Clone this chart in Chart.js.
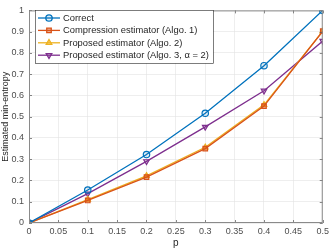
<!DOCTYPE html>
<html lang="en">
<head>
<meta charset="UTF-8">
<title>Min-entropy estimators</title>
<script src="https://cdn.jsdelivr.net/npm/chart.js"></script>
<style>
  html, body { margin: 0; padding: 0; background: #fff; }
</style>
</head>
<body>
<canvas id="entropyChart" width="332" height="249"></canvas>
<script>
    const pValues = [0, 0.1, 0.2, 0.3, 0.4, 0.5];
    const correct = [0, 0.155, 0.322, 0.516, 0.740, 1.0];
    const compression = [0, 0.106, 0.216, 0.350, 0.550, 0.902];
    const proposedAlgo2 = [0, 0.110, 0.222, 0.356, 0.556, 0.902];
    const proposedAlgo3 = [0, 0.138, 0.290, 0.452, 0.622, 0.856];
    const seriesNames = [
        'Correct',
        'Compression estimator (Algo. 1)',
        'Proposed estimator (Algo. 2)',
        'Proposed estimator (Algo. 3, \u03b1 = 2)'
    ];
    const xTicks = [0, 0.05, 0.1, 0.15, 0.2, 0.25, 0.3, 0.35, 0.4, 0.45, 0.5];
    const yTicks = [0, 0.1, 0.2, 0.3, 0.4, 0.5, 0.6, 0.7, 0.8, 0.9, 1];

    const toPoints = ys => pValues.map((x, i) => ({x: x, y: ys[i]}));
    const font = '"Liberation Sans", Arial, sans-serif';

    // box, inner ticks and legend drawn over the chart area like MATLAB
    const matlabAxes = {
        id: 'matlabAxes',
        afterDraw(chart) {
            const ctx = chart.ctx;
            const a = chart.chartArea;
            const xs = chart.scales.x, ys = chart.scales.y;
            ctx.save();
            ctx.strokeStyle = '#555';
            ctx.lineWidth = 0.7;
            ctx.beginPath();
            xs.ticks.forEach(t => {
                const px = Math.round(xs.getPixelForValue(t.value)) + 0.5;
                ctx.moveTo(px, a.bottom); ctx.lineTo(px, a.bottom - 3);
                ctx.moveTo(px, a.top); ctx.lineTo(px, a.top + 3);
            });
            ys.ticks.forEach(t => {
                const py = Math.round(ys.getPixelForValue(t.value)) + 0.5;
                ctx.moveTo(a.left, py); ctx.lineTo(a.left + 3, py);
                ctx.moveTo(a.right, py); ctx.lineTo(a.right - 3, py);
            });
            ctx.stroke();
            ctx.strokeStyle = '#8a8a8a';
            ctx.lineWidth = 1;
            ctx.strokeRect(a.left + 0.5, a.top + 0.5, a.right - a.left - 1, a.bottom - a.top - 1);

            // legend
            const lx = 35, ly = 10, lw = 178, lh = 53;
            ctx.fillStyle = '#fff';
            ctx.fillRect(lx, ly, lw, lh);
            ctx.strokeStyle = '#262626';
            ctx.lineWidth = 0.6;
            ctx.strokeRect(lx + 0.5, ly + 0.5, lw, lh);
            ctx.font = '9.4px ' + font;
            ctx.textBaseline = 'middle';
            chart.data.datasets.forEach((ds, i) => {
                const cy = ly + 8 + i * 12.4;
                ctx.strokeStyle = ds.borderColor;
                ctx.lineWidth = 1.3;
                ctx.beginPath();
                ctx.moveTo(lx + 3, cy); ctx.lineTo(lx + 25, cy);
                ctx.stroke();
                ctx.fillStyle = ds.pointBackgroundColor;
                Chart.helpers.drawPoint(ctx, {
                    pointStyle: ds.pointStyle,
                    rotation: ds.pointRotation || 0,
                    radius: ds.pointRadius,
                    borderWidth: 1.2
                }, lx + 14, cy);
                ctx.fillStyle = '#262626';
                ctx.fillText(seriesNames[i], lx + 28, cy + 0.5);
            });
            ctx.restore();
        }
    };

    const ctx = document.getElementById('entropyChart').getContext('2d');
    const makeSet = (label, ys, color, style, rotation, fill) => ({
        label: label,
        data: toPoints(ys),
        borderColor: color,
        backgroundColor: fill,
        pointBorderColor: color,
        pointBackgroundColor: fill,
        pointStyle: style,
        pointRotation: rotation,
        pointRadius: 3.2,
        pointBorderWidth: 1.2,
        borderWidth: 1.3,
        tension: 0
    });

    new Chart(ctx, {
        type: 'line',
        data: {
            datasets: [
                makeSet(seriesNames[0], correct, '#0072BD', 'circle', 0, 'rgba(0,114,189,0.12)'),
                makeSet(seriesNames[1], compression, '#D95319', 'rect', 0, 'rgba(217,83,25,0.45)'),
                makeSet(seriesNames[2], proposedAlgo2, '#EDB120', 'triangle', 0, 'rgba(237,177,32,0.45)'),
                makeSet(seriesNames[3], proposedAlgo3, '#7E2F8E', 'triangle', 180, 'rgba(126,47,142,0.2)')
            ]
        },
        options: {
            responsive: false,
            animation: false,
            layout: { padding: { left: 0, right: 8, top: 5, bottom: 0 } },
            plugins: {
                legend: { display: false },
                tooltip: { enabled: false }
            },
            scales: {
                x: {
                    type: 'linear',
                    min: 0,
                    max: 0.5,
                    afterFit: s => { s.height = 26; },
                    afterBuildTicks: s => { s.ticks = xTicks.map(v => ({value: v})); },
                    grid: { color: '#e3e3e3', lineWidth: 0.6, drawTicks: false },
                    border: { display: false },
                    ticks: {
                        padding: 3,
                        maxRotation: 0,
                        autoSkip: false,
                        color: '#4d4d4d',
                        font: { size: 9, family: font },
                        callback: v => String(Math.round(v * 100) / 100)
                    },
                    title: {
                        display: true,
                        text: 'p',
                        color: '#262626',
                        padding: { top: 0, bottom: 0 },
                        font: { size: 10, family: font }
                    }
                },
                y: {
                    min: 0,
                    max: 1,
                    afterFit: s => { s.width = 29; },
                    afterBuildTicks: s => { s.ticks = yTicks.map(v => ({value: v})); },
                    grid: { color: '#e3e3e3', lineWidth: 0.6, drawTicks: false },
                    border: { display: false },
                    ticks: {
                        padding: 5,
                        autoSkip: false,
                        color: '#4d4d4d',
                        font: { size: 9, family: font },
                        callback: v => String(Math.round(v * 10) / 10)
                    },
                    title: {
                        display: true,
                        text: 'Estimated min-entropy',
                        color: '#262626',
                        padding: { top: 0, bottom: 0 },
                        font: { size: 9, family: font }
                    }
                }
            }
        },
        plugins: [matlabAxes]
    });
</script>
</body>
</html>
